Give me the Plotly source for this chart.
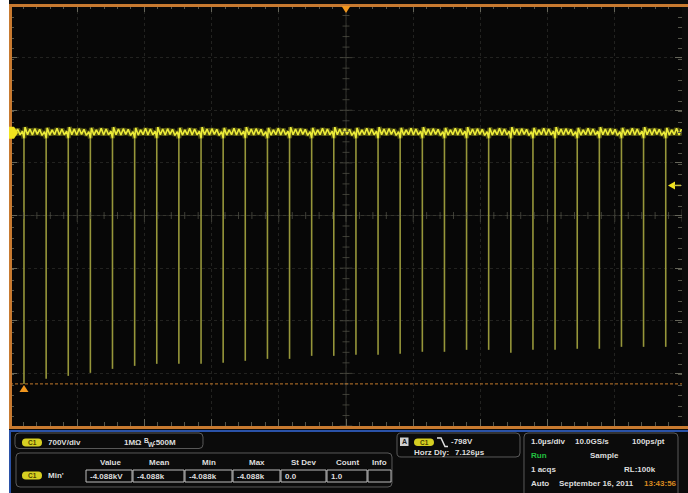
import numpy as np
import plotly.graph_objects as go

# ---------------- data (read from the screen) ----------------
# spike (falling pulse) times in microseconds, 1.0 us/div, trigger at centre
spike_t = [-4.792, -4.462, -4.133, -3.804, -3.475, -3.145, -2.816, -2.487, -2.157, -1.828,
           -1.499, -1.169, -0.840, -0.511, -0.182, 0.148, 0.477, 0.806, 1.136, 1.465,
           1.794, 2.123, 2.453, 2.782, 3.111, 3.441, 3.770, 4.099, 4.428, 4.758]
# minimum voltage reached by each spike (V), 700 V/div
spike_v = [-3340, -3273, -3233, -3193, -3140, -3100, -3073, -3073, -3073, -3060,
           -3033, -3007, -3007, -2967, -2967, -2953, -2953, -2940, -2913, -2913,
           -2887, -2887, -2927, -2887, -2887, -2873, -2873, -2847, -2847, -2847]
# ripple on the top level between two spikes (fraction of the period, volts)
ripple_frac = [0.05, 0.16, 0.27, 0.38, 0.49, 0.6, 0.71, 0.82, 0.93]
ripple_v_a = [75, -25, 50, -30, 55, -20, 45, -35, 15]
ripple_v_b = [65, -30, 40, -25, 60, -30, 50, -25, 20]
spike_top_v = -70          # small notch where each pulse starts
trig_mark_v = -700         # right-hand trigger level arrow position
y_center_v = -1100         # voltage at the screen centre line
volts_per_div = 700
us_per_div = 1.0

# ---------------- geometry helpers ----------------
FW, FH = 688, 493
L, T, R, B = 10, 5, 6, 67
PW, PH = FW - L - R, FH - T - B
x_range = [-5 * us_per_div, 5 * us_per_div]
y_range = [y_center_v - 4 * volts_per_div, y_center_v + 4 * volts_per_div]


def PX(x):
    return (x - L) / PW


def PY(y):
    return 1 - (y - T) / PH


def vy(v):  # data volts -> screen pixel y
    return T + (y_range[1] - v) / (y_range[1] - y_range[0]) * PH


def tx(t):  # data time -> screen pixel x
    return L + (t - x_range[0]) / (x_range[1] - x_range[0]) * PW


def poly(pts):
    s = "M " + " L ".join(f"{PX(x):.5f},{PY(y):.5f}" for x, y in pts) + " Z"
    return s


def rrect(x0, y0, x1, y1, r):
    p = lambda x, y: f"{PX(x):.5f},{PY(y):.5f}"
    return (f"M {p(x0 + r, y0)} L {p(x1 - r, y0)} Q {p(x1, y0)} {p(x1, y0 + r)} "
            f"L {p(x1, y1 - r)} Q {p(x1, y1)} {p(x1 - r, y1)} L {p(x0 + r, y1)} "
            f"Q {p(x0, y1)} {p(x0, y1 - r)} L {p(x0, y0 + r)} Q {p(x0, y0)} {p(x0 + r, y0)} Z")


# ---------------- build the waveform ----------------
period = float(np.mean(np.diff(spike_t)))
bx, by = [], []
for f, v in zip(ripple_frac, ripple_v_b):
    t = spike_t[0] + (f - 1) * period
    if t >= x_range[0]:
        bx.append(t); by.append(v)
for k, t0 in enumerate(spike_t):
    bx.append(t0); by.append(spike_top_v)
    shape = ripple_v_a if k % 2 == 0 else ripple_v_b
    for f, v in zip(ripple_frac, shape):
        t = t0 + f * period
        if t <= x_range[1]:
            bx.append(t); by.append(v)

sx, sy = [], []
for t0, v in zip(spike_t, spike_v):
    sx += [t0, t0, None]
    sy += [spike_top_v, v, None]

fig = go.Figure()
fig.add_trace(go.Scatter(x=sx, y=sy, mode="lines", line=dict(color="#96963a", width=1.6),
                         hoverinfo="skip", showlegend=False))
fig.add_trace(go.Scatter(x=bx, y=by, mode="lines", line=dict(color="rgba(225,225,40,0.33)", width=5),
                         hoverinfo="skip", showlegend=False))
fig.add_trace(go.Scatter(x=bx, y=by, mode="lines", line=dict(color="#ecec3a", width=1.6),
                         hoverinfo="skip", showlegend=False))

# centre cross minor ticks
TICKC = "#55554a"
cx = [x_range[0] + j * 0.2 * us_per_div for j in range(51)]
cy = [y_range[0] + j * 0.2 * volts_per_div for j in range(41)]
fig.add_trace(go.Scatter(x=cx, y=[y_center_v] * len(cx), mode="markers",
                         marker=dict(symbol="line-ns-open", color=TICKC,
                                     size=[9 if j % 5 == 0 else 5 for j in range(51)],
                                     line=dict(color=TICKC, width=1)),
                         hoverinfo="skip", showlegend=False))
fig.add_trace(go.Scatter(x=[0] * len(cy), y=cy, mode="markers",
                         marker=dict(symbol="line-ew-open", color=TICKC,
                                     size=[9 if j % 5 == 0 else 5 for j in range(41)],
                                     line=dict(color=TICKC, width=1)),
                         hoverinfo="skip", showlegend=False))

shapes = []
ORANGE = "#c87a30"
BLUE = "#2a52a8"
GREY = "#5a5a5a"
TXT = "#dedede"

# centre lines
shapes.append(dict(type="line", xref="x", yref="y", x0=0, x1=0, y0=y_range[0], y1=y_range[1],
                   line=dict(color="#35352e", width=1), layer="below"))
shapes.append(dict(type="line", xref="x", yref="y", x0=x_range[0], x1=x_range[1], y0=y_center_v, y1=y_center_v,
                   line=dict(color="#35352e", width=1), layer="below"))

# min cursor
vmin = min(spike_v)
tmin = spike_t[spike_v.index(vmin)]
shapes.append(dict(type="line", xref="paper", yref="y", x0=0, x1=1, y0=vmin, y1=vmin,
                   line=dict(color="#c47a2c", width=1, dash="3px,2px")))
mx, my = tx(tmin), vy(vmin)
shapes.append(dict(type="path", xref="paper", yref="paper",
                   path=poly([(mx, my + 1), (mx + 4.5, my + 8), (mx - 4.5, my + 8)]),
                   fillcolor="#f0961e", line=dict(width=0)))

# frame
shapes.append(dict(type="rect", xref="paper", yref="paper", x0=PX(0), x1=PX(9), y0=PY(FH), y1=PY(0),
                   fillcolor="white", line=dict(width=0)))
shapes.append(dict(type="line", xref="paper", yref="paper", x0=PX(9), x1=PX(FW), y0=PY(5.5), y1=PY(5.5),
                   line=dict(color=ORANGE, width=3)))
shapes.append(dict(type="line", xref="paper", yref="paper", x0=PX(10.5), x1=PX(10.5), y0=PY(5), y1=PY(429),
                   line=dict(color=ORANGE, width=3)))
shapes.append(dict(type="line", xref="paper", yref="paper", x0=PX(9), x1=PX(FW), y0=PY(427.5), y1=PY(427.5),
                   line=dict(color=ORANGE, width=3)))
shapes.append(dict(type="line", xref="paper", yref="paper", x0=PX(9), x1=PX(FW), y0=PY(431), y1=PY(431),
                   line=dict(color=BLUE, width=2)))
shapes.append(dict(type="line", xref="paper", yref="paper", x0=PX(10), x1=PX(10), y0=PY(430), y1=PY(FH),
                   line=dict(color=BLUE, width=2)))

# markers: trigger position (top), channel ground (left), trigger level (right)
shapes.append(dict(type="path", xref="paper", yref="paper",
                   path=poly([(tx(0) - 4.5, 6), (tx(0) + 4.5, 6), (tx(0), 13)]),
                   fillcolor="#f0961e", line=dict(width=0)))
gy = vy(0)
shapes.append(dict(type="path", xref="paper", yref="paper",
                   path=poly([(9, gy - 6), (14, gy - 6), (18, gy), (14, gy + 6), (9, gy + 6)]),
                   fillcolor="#f2e41e", line=dict(width=0)))
ty_ = vy(trig_mark_v)
shapes.append(dict(type="path", xref="paper", yref="paper",
                   path=poly([(668, ty_), (675, ty_ - 4), (675, ty_ + 4)]),
                   fillcolor="#f2e41e", line=dict(width=0)))
shapes.append(dict(type="line", xref="paper", yref="paper", x0=PX(674), x1=PX(681), y0=PY(ty_), y1=PY(ty_),
                   line=dict(color="#c8c040", width=1.5)))

# bottom panel boxes
for (x0, y0, x1, y1) in [(15, 433, 203, 448.5), (16, 453, 392, 487), (397, 433, 520, 457), (524, 433, 678, 500)]:
    shapes.append(dict(type="path", xref="paper", yref="paper", path=rrect(x0, y0, x1, y1, 4),
                       line=dict(color=GREY, width=1), fillcolor="rgba(0,0,0,0)"))
# measurement cells
cells = [(86, 132), (133, 184), (185, 232), (233, 280), (281, 326), (327, 367), (368, 391)]
for (x0, x1) in cells:
    shapes.append(dict(type="rect", xref="paper", yref="paper", x0=PX(x0), x1=PX(x1), y0=PY(470), y1=PY(482),
                       line=dict(color="#bdbdbd", width=1), fillcolor="rgba(0,0,0,0)"))
# C1 pills
pills = [(22, 42, 438.5, 446.5), (22, 42, 471.5, 479.5), (414, 434, 438.5, 446)]
for (x0, x1, y0, y1) in pills:
    shapes.append(dict(type="path", xref="paper", yref="paper", path=rrect(x0, y0, x1, y1, 3.8),
                       fillcolor="#d6cf22", line=dict(width=0)))
# "A" icon and edge symbol
shapes.append(dict(type="rect", xref="paper", yref="paper", x0=PX(400), x1=PX(408.5), y0=PY(446), y1=PY(437.5),
                   fillcolor="#cfcfcf", line=dict(width=0)))
shapes.append(dict(type="path", xref="paper", yref="paper",
                   path=f"M {PX(437):.5f},{PY(438):.5f} L {PX(441):.5f},{PY(438):.5f} L {PX(445):.5f},{PY(446.5):.5f} L {PX(448):.5f},{PY(446.5):.5f}",
                   line=dict(color="#e0e0e0", width=1.5)))

annotations = []


def text(x, y, s, color=TXT, size=8, anchor="left", bold=True):
    annotations.append(dict(x=PX(x), y=PY(y), xref="paper", yref="paper", text=s, showarrow=False,
                            xanchor=anchor, yanchor="middle",
                            font=dict(family="Liberation Sans, Arial", size=size, color=color,
                                      weight="bold" if bold else "normal")))


for (x0, x1, y0, y1) in pills:
    text((x0 + x1) / 2, (y0 + y1) / 2, "C1", color="#4a4200", size=6.5, anchor="center")
text(404.3, 442, "A", color="#202020", size=7, anchor="center")

text(46, 442.5, "700V/div")
text(122, 442.5, "1MΩ")
text(142, 440.5, "B", size=6.5)
text(145.5, 444.5, "W", size=6.5)
text(151, 442.5, ":500M")

headers = ["Value", "Mean", "Min", "Max", "St Dev", "Count", "Info"]
header_x = [110, 159, 209, 257, 303, 347, 379]
for h, x in zip(headers, header_x):
    text(x, 462.5, h, anchor="center")
text(46, 475.5, "Min'")
values = ["-4.088kV", "-4.088k", "-4.088k", "-4.088k", "0.0", "1.0"]
for v, (x0, x1) in zip(values, cells):
    text(x0 + 1.5, 476, v)

text(449, 442, "-798V")
text(412, 452, "Horz Dly:")
text(453, 452, "7.126µs")

text(529, 441.5, "1.0µs/div")
text(573, 441.5, "10.0GS/s")
text(630, 441.5, "100ps/pt")
text(529, 455.5, "Run", color="#22c040")
text(588, 455.5, "Sample")
text(529, 469.5, "1 acqs")
text(622, 469.5, "RL:100k")
text(529, 483.5, "Auto")
text(557, 483.5, "September 16, 2011")
text(642, 483.5, "13:43:56", color="#d88a20")

axis_common = dict(showticklabels=False, ticks="inside", ticklen=7, tickwidth=1, tickcolor="#66665a",
                   mirror="ticks", showline=False, zeroline=False, showgrid=True,
                   gridcolor="#222220", griddash="dot", gridwidth=1, fixedrange=True)
fig.update_layout(
    width=FW, height=FH, margin=dict(l=L, r=R, t=T, b=B),
    paper_bgcolor="#0b0b0b", plot_bgcolor="#070707",
    xaxis=dict(range=x_range, dtick=us_per_div, tick0=0,
               minor=dict(dtick=0.2 * us_per_div, ticks="inside", ticklen=4, tickcolor="#55554a", showgrid=False),
               **axis_common),
    yaxis=dict(range=y_range, dtick=volts_per_div, tick0=y_center_v,
               minor=dict(dtick=0.2 * volts_per_div, ticks="inside", ticklen=4, tickcolor="#55554a", showgrid=False),
               **axis_common),
    shapes=shapes, annotations=annotations, showlegend=False,
)
fig.write_html("out.html", config={"displayModeBar": False},
               post_script="document.body.style.margin='0px';document.body.style.overflow='hidden';")
